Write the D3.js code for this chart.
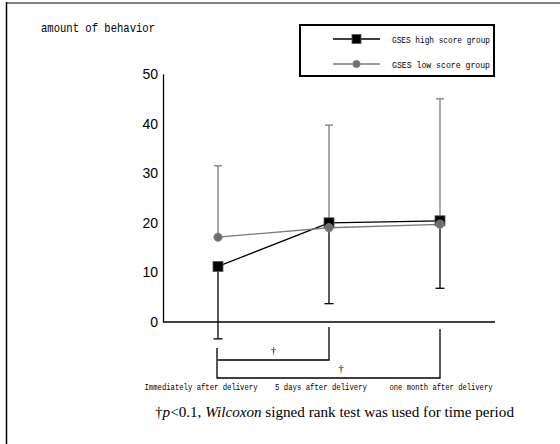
<!DOCTYPE html>
<html><head><meta charset="utf-8">
<script src="https://cdn.jsdelivr.net/npm/d3@7"></script>
<style>html,body{margin:0;padding:0;background:#fff;}svg{display:block;}</style>
</head><body>
<script>
const categories = ["Immediately after delivery", "5 days after delivery", "one month after delivery"];
const highMean = [11.2, 20.0, 20.4];
const highLower = [-3.4, 3.7, 6.8];
const lowMean = [17.1, 19.0, 19.7];
const lowUpper = [31.5, 39.7, 45.0];
const yTicks = [0, 10, 20, 30, 40, 50];
const seriesNames = ["GSES high score group", "GSES low score group"];
const comparisons = [[0, 1], [0, 2]];
const compLabel = "\u2020";

const W = 560, H = 444;
const svg = d3.select("body").append("svg").attr("width", W).attr("height", H);
const mono = "'Liberation Mono', 'DejaVu Sans Mono', monospace";
const serif = "'Liberation Serif', 'Times New Roman', serif";

// frame
svg.append("line").attr("x1", 6).attr("x2", W).attr("y1", 3).attr("y2", 3).attr("stroke", "#808080").attr("stroke-width", 2);
svg.append("line").attr("x1", 6.5).attr("x2", 6.5).attr("y1", 2).attr("y2", H).attr("stroke", "#000").attr("stroke-width", 1.5);

// title
svg.append("text").attr("x", 41).attr("y", 32).attr("font-family", mono).attr("font-size", 13.5)
  .attr("textLength", 114).attr("lengthAdjust", "spacingAndGlyphs").text("amount of behavior");

const x = d3.scalePoint().domain(categories).range([218, 440]);
const y = d3.scaleLinear().domain([0, 50]).range([322, 74]);

// axes
const yAxis = d3.axisLeft(y).tickValues(yTicks).tickSize(0).tickPadding(5);
const gy = svg.append("g").attr("transform", "translate(163,0)").call(yAxis);
gy.select(".domain").attr("stroke", "#000").attr("stroke-width", 1.3);
gy.selectAll("text").attr("font-family", "'Liberation Sans Narrow', 'Liberation Sans', Arial, sans-serif")
  .attr("font-size", 14).attr("fill", "#000");

svg.append("line").attr("x1", 163).attr("x2", 495).attr("y1", y(0)).attr("y2", y(0)).attr("stroke", "#000").attr("stroke-width", 1.3);

const gray = "#7a7a7a";

// low group error bars (upper)
categories.forEach((c, i) => {
  svg.append("line").attr("x1", x(c)).attr("x2", x(c)).attr("y1", y(lowMean[i])).attr("y2", y(lowUpper[i])).attr("stroke", gray).attr("stroke-width", 1.3);
  svg.append("line").attr("x1", x(c) - 4).attr("x2", x(c) + 4).attr("y1", y(lowUpper[i])).attr("y2", y(lowUpper[i])).attr("stroke", gray).attr("stroke-width", 1.3);
});
// high group error bars (lower)
categories.forEach((c, i) => {
  svg.append("line").attr("x1", x(c)).attr("x2", x(c)).attr("y1", y(highMean[i])).attr("y2", y(highLower[i])).attr("stroke", "#000").attr("stroke-width", 1.3);
  svg.append("line").attr("x1", x(c) - 4.5).attr("x2", x(c) + 4.5).attr("y1", y(highLower[i])).attr("y2", y(highLower[i])).attr("stroke", "#000").attr("stroke-width", 1.3);
});

// lines
const lineGen = d3.line().x((d, i) => x(categories[i])).y(d => y(d));
svg.append("path").attr("d", lineGen(highMean)).attr("fill", "none").attr("stroke", "#000").attr("stroke-width", 1.3);
svg.append("path").attr("d", lineGen(lowMean)).attr("fill", "none").attr("stroke", gray).attr("stroke-width", 1.3);

// markers
svg.selectAll(".sq").data(highMean).enter().append("rect")
  .attr("x", (d, i) => x(categories[i]) - 5).attr("y", d => y(d) - 5).attr("width", 10).attr("height", 10)
  .attr("fill", "#000").attr("stroke", "#555").attr("stroke-width", 0.8);
svg.selectAll(".ci").data(lowMean).enter().append("circle")
  .attr("cx", (d, i) => x(categories[i])).attr("cy", d => y(d)).attr("r", 4.3).attr("fill", "#6e6e6e").attr("stroke", "#999").attr("stroke-width", 0.6);

// brackets
const bracketLevels = [360, 378];
const bracketStarts = [[348, 327], [348, 329]];
const daggerShift = [0, 12];
comparisons.forEach((cmp, k) => {
  const xa = x(categories[cmp[0]]), xb = x(categories[cmp[1]]);
  const ly = bracketLevels[k];
  const p = d3.path();
  if (k === 1) { p.moveTo(xa - 1, bracketStarts[k][0]); p.lineTo(xa - 1, ly); }
  else { p.moveTo(xa, ly); }
  p.lineTo(xb, ly);
  p.lineTo(xb, bracketStarts[k][1]);
  svg.append("path").attr("d", p.toString()).attr("fill", "none").attr("stroke", "#000").attr("stroke-width", 1.3);
  svg.append("text").attr("x", (xa + xb) / 2 + daggerShift[k]).attr("y", ly - 6).attr("text-anchor", "middle")
    .attr("font-family", serif).attr("font-size", 11).attr("fill", "#000").text(compLabel);
});

// category labels
const xl = d3.scalePoint().domain(categories).range([201, 441]);
const labelWidths = [113, 92, 103];
categories.forEach((c, i) => {
  svg.append("text").attr("x", xl(c)).attr("y", 390).attr("text-anchor", "middle")
    .attr("font-family", mono).attr("font-size", 9)
    .attr("textLength", labelWidths[i]).attr("lengthAdjust", "spacingAndGlyphs").text(c);
});

// footnote
const fn = svg.append("text").attr("x", 155).attr("y", 417).attr("font-family", serif)
  .attr("font-size", 14).attr("textLength", 359).attr("lengthAdjust", "spacingAndGlyphs");
fn.append("tspan").text("\u2020");
fn.append("tspan").attr("font-style", "italic").text("p");
fn.append("tspan").text("<0.1, ");
fn.append("tspan").attr("font-style", "italic").text("Wilcoxon");
fn.append("tspan").text(" signed rank test was used for time period");

// legend
const lg = svg.append("g");
lg.append("rect").attr("x", 300).attr("y", 25).attr("width", 194).attr("height", 51).attr("fill", "#fff").attr("stroke", "#000").attr("stroke-width", 2);
const legendY = [39, 64];
seriesNames.forEach((s, i) => {
  const col = i === 0 ? "#000" : gray;
  lg.append("line").attr("x1", 333).attr("x2", 380).attr("y1", legendY[i]).attr("y2", legendY[i]).attr("stroke", col).attr("stroke-width", 1.3);
  if (i === 0) lg.append("rect").attr("x", 352).attr("y", legendY[i] - 4.5).attr("width", 9).attr("height", 9).attr("fill", "#000").attr("stroke", "#555").attr("stroke-width", 0.8);
  else lg.append("circle").attr("cx", 356.5).attr("cy", legendY[i]).attr("r", 3.8).attr("fill", "#6e6e6e").attr("stroke", "#999").attr("stroke-width", 0.6);
  lg.append("text").attr("x", 392).attr("y", legendY[i] + 3.5).attr("font-family", mono).attr("font-size", 9.5)
    .attr("textLength", 98).attr("lengthAdjust", "spacingAndGlyphs").text(s);
});
</script>
</body></html>
